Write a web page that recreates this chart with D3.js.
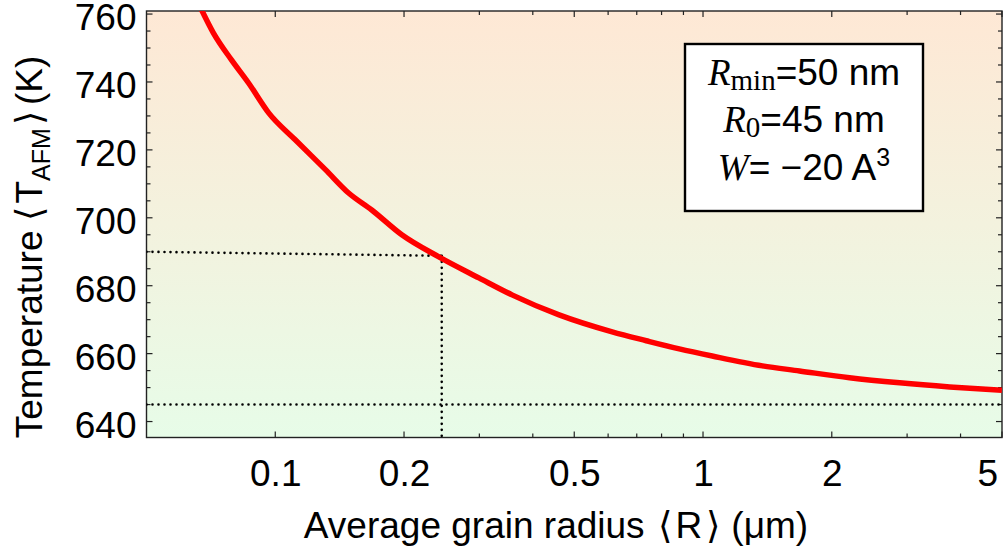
<!DOCTYPE html>
<html><head><meta charset="utf-8">
<script src="https://cdn.jsdelivr.net/npm/d3@7"></script>
<style>
html,body{margin:0;padding:0;background:#fff;}
svg{display:block;font-family:"Liberation Sans",Arial,sans-serif;}
</style></head>
<body>
<svg id="chart" width="1003" height="553"></svg>
<script>
// ---- data ----
const radius = [0.0661, 0.0717, 0.0790, 0.0866, 0.0965, 0.1115, 0.1312, 0.1484, 0.1681, 0.1976, 0.2412, 0.2993, 0.3576, 0.4608, 0.6133, 0.7366, 0.880, 1.051, 1.377, 1.681, 2.201, 2.882, 3.774, 4.996];
const temperature = [763.2, 754.4, 746.5, 739.7, 730.9, 722.9, 714.1, 707.3, 702.3, 695.0, 688.5, 682.3, 677.3, 671.4, 666.4, 663.8, 661.4, 659.3, 656.4, 654.9, 652.9, 651.4, 650.2, 649.2];
const xTickLabels = [0.1, 0.2, 0.5, 1, 2, 5];
const xMinorTicks = [0.3, 0.4, 0.6, 0.7, 0.8, 0.9, 3, 4];
const yTickLabels = [640, 660, 680, 700, 720, 740, 760];
const yMinorStep = 5;
const xDomain = [0.05, 5];
const yDomain = [635.3, 760.9];
const markR = 0.245, markT = 688.8, markTLeft = 690, lowT = 645;

// ---- layout ----
const svg = d3.select("#chart");
const L = 146.5, R = 1002, T = 11, B = 437.5;
const x = d3.scaleLog().domain(xDomain).range([L, R]);
const y = d3.scaleLinear().domain(yDomain).range([B, T]);

const defs = svg.append("defs");
const grad = defs.append("linearGradient").attr("id","bg").attr("x1",0).attr("y1",0).attr("x2",0).attr("y2",1);
grad.append("stop").attr("offset","0%").attr("stop-color","#fee8d5");
grad.append("stop").attr("offset","50%").attr("stop-color","#f3f2de");
grad.append("stop").attr("offset","100%").attr("stop-color","#e7fce8");
defs.append("clipPath").attr("id","clip").append("rect")
  .attr("x",L).attr("y",T).attr("width",R-L).attr("height",B-T);

svg.append("rect").attr("x",L).attr("y",T).attr("width",R-L).attr("height",B-T).attr("fill","url(#bg)");

// ---- ticks (inward, both sides) ----
const tickG = svg.append("g").attr("stroke","#222").attr("stroke-width",1.2);
const yMinor = d3.range(Math.ceil(yDomain[0]/yMinorStep)*yMinorStep, yDomain[1], yMinorStep);
yMinor.forEach(v => {
  const len = yTickLabels.includes(v) ? 6 : 4;
  tickG.append("line").attr("x1",L).attr("x2",L+len).attr("y1",y(v)).attr("y2",y(v));
  tickG.append("line").attr("x1",R).attr("x2",R-len).attr("y1",y(v)).attr("y2",y(v));
});
xTickLabels.concat(xMinorTicks).forEach(v => {
  const len = xTickLabels.includes(v) ? 6 : 4;
  tickG.append("line").attr("x1",x(v)).attr("x2",x(v)).attr("y1",B).attr("y2",B-len);
  tickG.append("line").attr("x1",x(v)).attr("x2",x(v)).attr("y1",T).attr("y2",T+len);
});

// ---- axes labels via d3 axes ----
const yAxis = svg.append("g").attr("transform",`translate(${L},0)`)
  .call(d3.axisLeft(y).tickValues(yTickLabels).tickSize(0).tickPadding(10).tickFormat(d3.format("d")));
yAxis.select(".domain").remove();
yAxis.selectAll("text").attr("font-size",37).attr("fill","#000").attr("font-family","Liberation Sans, Arial, sans-serif").attr("dy","0.42em");

const xAxis = svg.append("g").attr("transform",`translate(0,${B})`)
  .call(d3.axisBottom(x).tickValues(xTickLabels).tickSize(0).tickPadding(22).tickFormat(d => String(d)));
xAxis.select(".domain").remove();
xAxis.selectAll("text").attr("font-size",37).attr("fill","#000").attr("font-family","Liberation Sans, Arial, sans-serif").attr("dy","0.71em");
xAxis.selectAll(".tick").each(function(){
  const t = d3.select(this).select("text");
  const bb = this.getBBox();
  const tx = +d3.select(this).attr("transform").match(/translate\(([-\d.]+)/)[1];
  const right = tx + bb.x + bb.width;
  if (right > 998) t.attr("x", 998 - right);
});

// ---- frame ----
svg.append("rect").attr("x",L).attr("y",T).attr("width",R-L).attr("height",B-T)
  .attr("fill","none").attr("stroke","#222").attr("stroke-width",1.4);

// ---- dotted guide lines ----
const dots = svg.append("g").attr("clip-path","url(#clip)").attr("stroke","#000")
  .attr("stroke-width",2.6).attr("stroke-linecap","round").attr("stroke-dasharray","0,6").attr("fill","none");
dots.append("line").attr("x1",x(xDomain[0])).attr("y1",y(markTLeft)).attr("x2",x(markR)).attr("y2",y(markT));
dots.append("line").attr("x1",x(markR)).attr("y1",y(markT)).attr("x2",x(markR)).attr("y2",y(yDomain[0]));
dots.append("line").attr("x1",x(xDomain[0])).attr("y1",y(lowT)).attr("x2",x(xDomain[1])).attr("y2",y(lowT));

// ---- curve ----
const pts = radius.map((r,i)=>[r, temperature[i]]);
svg.append("path").datum(pts).attr("clip-path","url(#clip)")
  .attr("fill","none").attr("stroke","#ff0000").attr("stroke-width",5.5).attr("stroke-linejoin","round")
  .attr("d", d3.line().x(d=>x(d[0])).y(d=>y(d[1])).curve(d3.curveMonotoneX));

// ---- legend box ----
svg.append("rect").attr("x",685).attr("y",44).attr("width",238).attr("height",167)
  .attr("fill","#fff").attr("stroke","#000").attr("stroke-width",2.4);
const serif = "Liberation Serif, Times New Roman, serif";
const cx = 804;
const fs = 37, fsSub = 29;
const l1 = svg.append("text").attr("x",cx).attr("y",85).attr("text-anchor","middle").attr("font-size",fs);
l1.append("tspan").attr("font-family",serif).attr("font-style","italic").text("R");
l1.append("tspan").attr("font-family",serif).attr("font-size",fsSub).attr("dy",5).text("min");
l1.append("tspan").attr("dy",-5).text("=50 nm");
const l2 = svg.append("text").attr("x",cx).attr("y",131.5).attr("text-anchor","middle").attr("font-size",fs);
l2.append("tspan").attr("font-family",serif).attr("font-style","italic").text("R");
l2.append("tspan").attr("font-family",serif).attr("font-size",fsSub).attr("dy",5).text("0");
l2.append("tspan").attr("dy",-5).text("=45 nm");
const l3 = svg.append("text").attr("x",cx).attr("y",180).attr("text-anchor","middle").attr("font-size",fs);
l3.append("tspan").attr("font-family",serif).attr("font-style","italic").text("W");
l3.append("tspan").text("= \u221220 A");
l3.append("tspan").attr("font-size",25).attr("dy",-14).text("3");

// ---- axis titles ----
const xt = svg.append("text").attr("x",556).attr("y",538).attr("text-anchor","middle").attr("font-size",37);
xt.append("tspan").text("Average grain radius");
xt.append("tspan").attr("dx",13).text("\u27E8");
xt.append("tspan").attr("dx",4).text("R");
xt.append("tspan").attr("dx",4).text("\u27E9");
xt.append("tspan").attr("dx",11).text("(\u03BCm)");
const yt = svg.append("text").attr("transform","translate(42,247) rotate(-90)").attr("text-anchor","middle").attr("font-size",37);
yt.append("tspan").text("Temperature");
yt.append("tspan").attr("dx",10).text("\u27E8");
yt.append("tspan").attr("dx",3).text("T");
yt.append("tspan").attr("font-size",25).attr("dy",8).text("AFM");
yt.append("tspan").attr("dy",-8).attr("dx",3).text("\u27E9");
yt.append("tspan").attr("dx",6).text("(K)");
</script>
</body></html>
